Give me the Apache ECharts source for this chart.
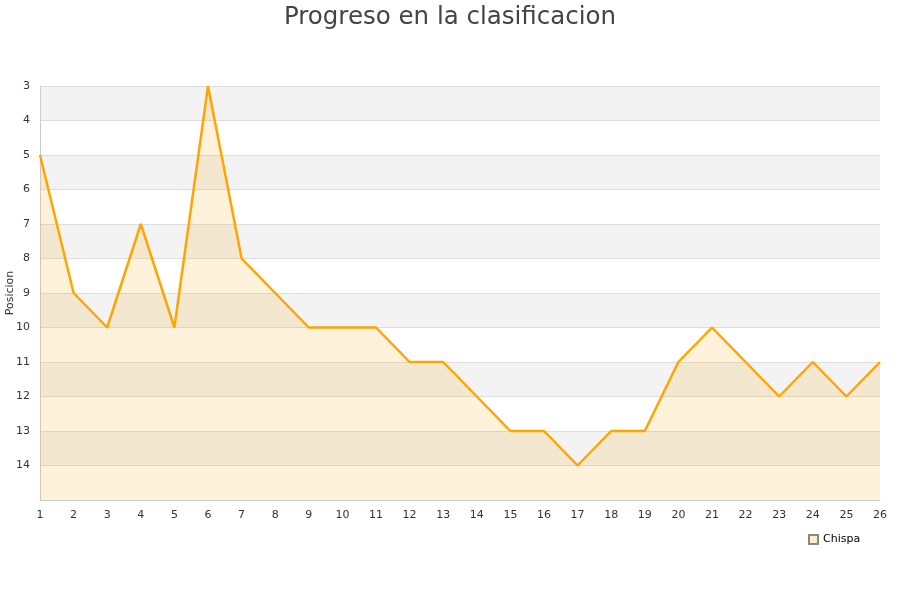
<!DOCTYPE html>
<html><head><meta charset="utf-8">
<script src="https://cdn.jsdelivr.net/npm/echarts@6/dist/echarts.min.js"></script>
<style>html,body{margin:0;padding:0;background:#fff}#c{width:900px;height:600px}</style>
</head><body><div id="c"></div>
<script>
const jornadas = ['1','2','3','4','5','6','7','8','9','10','11','12','13','14','15','16','17','18','19','20','21','22','23','24','25','26'];
const posiciones = [5,9,10,7,10,3,8,9,10,10,10,11,11,12,13,13,14,13,13,11,10,11,12,11,12,11];
const seriesName = 'Chispa';
const chart = echarts.init(document.getElementById('c'));
chart.setOption({
  animation:false,
  backgroundColor:'#fff',
  title:{text:'Progreso en la clasificacion',left:'center',top:0,textStyle:{fontSize:24.5,fontWeight:'normal',color:'#444',fontFamily:'DejaVu Sans'}},
  grid:{left:40,right:20,top:86,bottom:100,containLabel:false,outerBoundsMode:'none'},
  legend:{data:[{name:seriesName,icon:'rect'}],left:803,top:529,itemWidth:9,itemHeight:9,
    textStyle:{fontSize:11,color:'#000',fontFamily:'DejaVu Sans'}},
  xAxis:{type:'category',data:jornadas,boundaryGap:false,
    axisLine:{lineStyle:{color:'#ccc'}},axisTick:{show:false},
    axisLabel:{color:'#333',fontSize:11,margin:10,fontFamily:'DejaVu Sans'},splitLine:{show:false}},
  yAxis:{type:'value',inverse:true,min:3,max:15,interval:1,name:'Posicion',nameLocation:'middle',nameGap:24,nameMoveOverlap:false,
    nameTextStyle:{fontSize:11,color:'#333',fontFamily:'DejaVu Sans'},
    axisLine:{show:true,lineStyle:{color:'#ccc'}},axisTick:{show:false},
    axisLabel:{color:'#333',fontSize:11,margin:10,fontFamily:'DejaVu Sans',formatter:v=>v===15?'':v},
    splitLine:{show:true,lineStyle:{color:'#ddd'}},
    splitArea:{show:true,areaStyle:{color:['#f3f3f3','#ffffff']}}},
  series:[{name:seriesName,type:'line',data:posiciones,symbol:'none',
    lineStyle:{color:'#ffa500',width:2.5},itemStyle:{color:'#ffedcc',borderColor:'#888',borderWidth:1},
    areaStyle:{color:'rgba(255,165,0,0.2)',origin:'end'}}]
});
</script></body></html>
